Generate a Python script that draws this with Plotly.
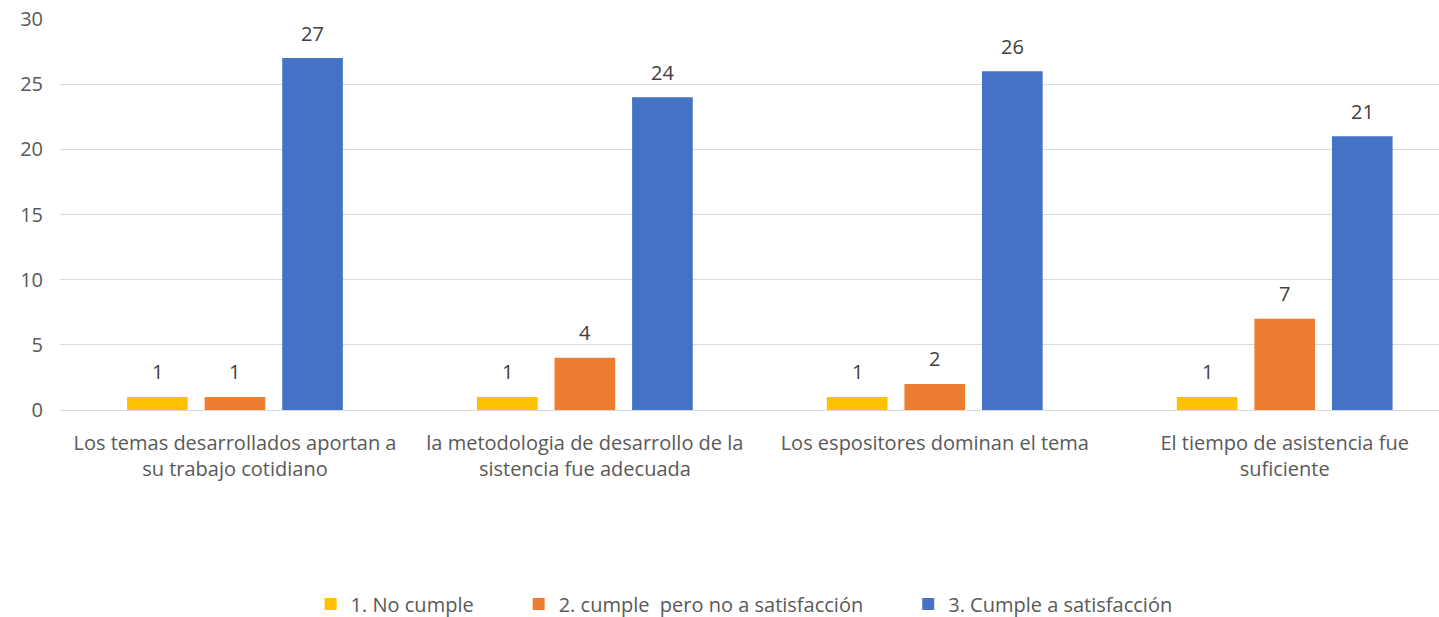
import plotly.graph_objects as go

categories = [
    "Los temas desarrollados aportan a<br>su trabajo cotidiano",
    "la metodologia de desarrollo de la<br>sistencia fue adecuada",
    "Los espositores dominan el tema",
    "El tiempo de asistencia fue<br>suficiente",
]
series_names = ["1. No cumple", "2. cumple  pero no a satisfacción", "3. Cumple a satisfacción"]
no_cumple = [1, 1, 1, 1]
cumple_no_satisf = [1, 4, 2, 7]
cumple_satisf = [27, 24, 26, 21]
colors = ["#FFC000", "#ED7D31", "#4472C4"]
y_ticks = [0, 5, 10, 15, 20, 25, 30]

FONT = "Open Sans"
FS = 20
SLOT_PX = 77.6  # horizontal spacing between grouped bars (style)

fig = go.Figure()
all_series = [no_cumple, cumple_no_satisf, cumple_satisf]
for name, vals, col in zip(series_names, all_series, colors):
    fig.add_trace(go.Bar(
        x=categories, y=vals, name=name + "\u2003\u2003", marker_color=col,
        marker_line_width=0,
    ))

# data labels placed above each bar
for i, vals in enumerate(all_series):
    for cat, v in zip(categories, vals):
        fig.add_annotation(
            x=cat, y=v, text=str(v), showarrow=False,
            xshift=(i - 1) * SLOT_PX, yshift=25, yanchor="middle",
            font=dict(family=FONT, size=FS, color="#404040"),
        )

fig.update_layout(
    width=1439, height=617,
    margin=dict(l=60, r=0, t=19, b=207, autoexpand=False),
    paper_bgcolor="white", plot_bgcolor="white",
    barmode="group", bargap=0.335, bargroupgap=0.218,
    font=dict(family=FONT, size=FS, color="#595959"),
    showlegend=True,
    legend=dict(orientation="h", x=0.5106, xanchor="center", y=-0.496, yanchor="middle",
                font=dict(family=FONT, size=FS, color="#595959"),
                traceorder="normal", itemwidth=30),
    xaxis=dict(range=[-0.5, 3.441], showgrid=False, showline=False, zeroline=False,
               automargin=False,
               tickfont=dict(family=FONT, size=FS, color="#595959"), ticklabelstandoff=19),
    yaxis=dict(range=[0, 30], tickvals=y_ticks, showgrid=True, gridcolor="#D9D9D9", gridwidth=1,
               zeroline=True, zerolinecolor="#D9D9D9", zerolinewidth=1, showline=False,
               automargin=False,
               tickfont=dict(family=FONT, size=FS, color="#595959"), ticklabelstandoff=16),
)

fig.write_html("out.html")
